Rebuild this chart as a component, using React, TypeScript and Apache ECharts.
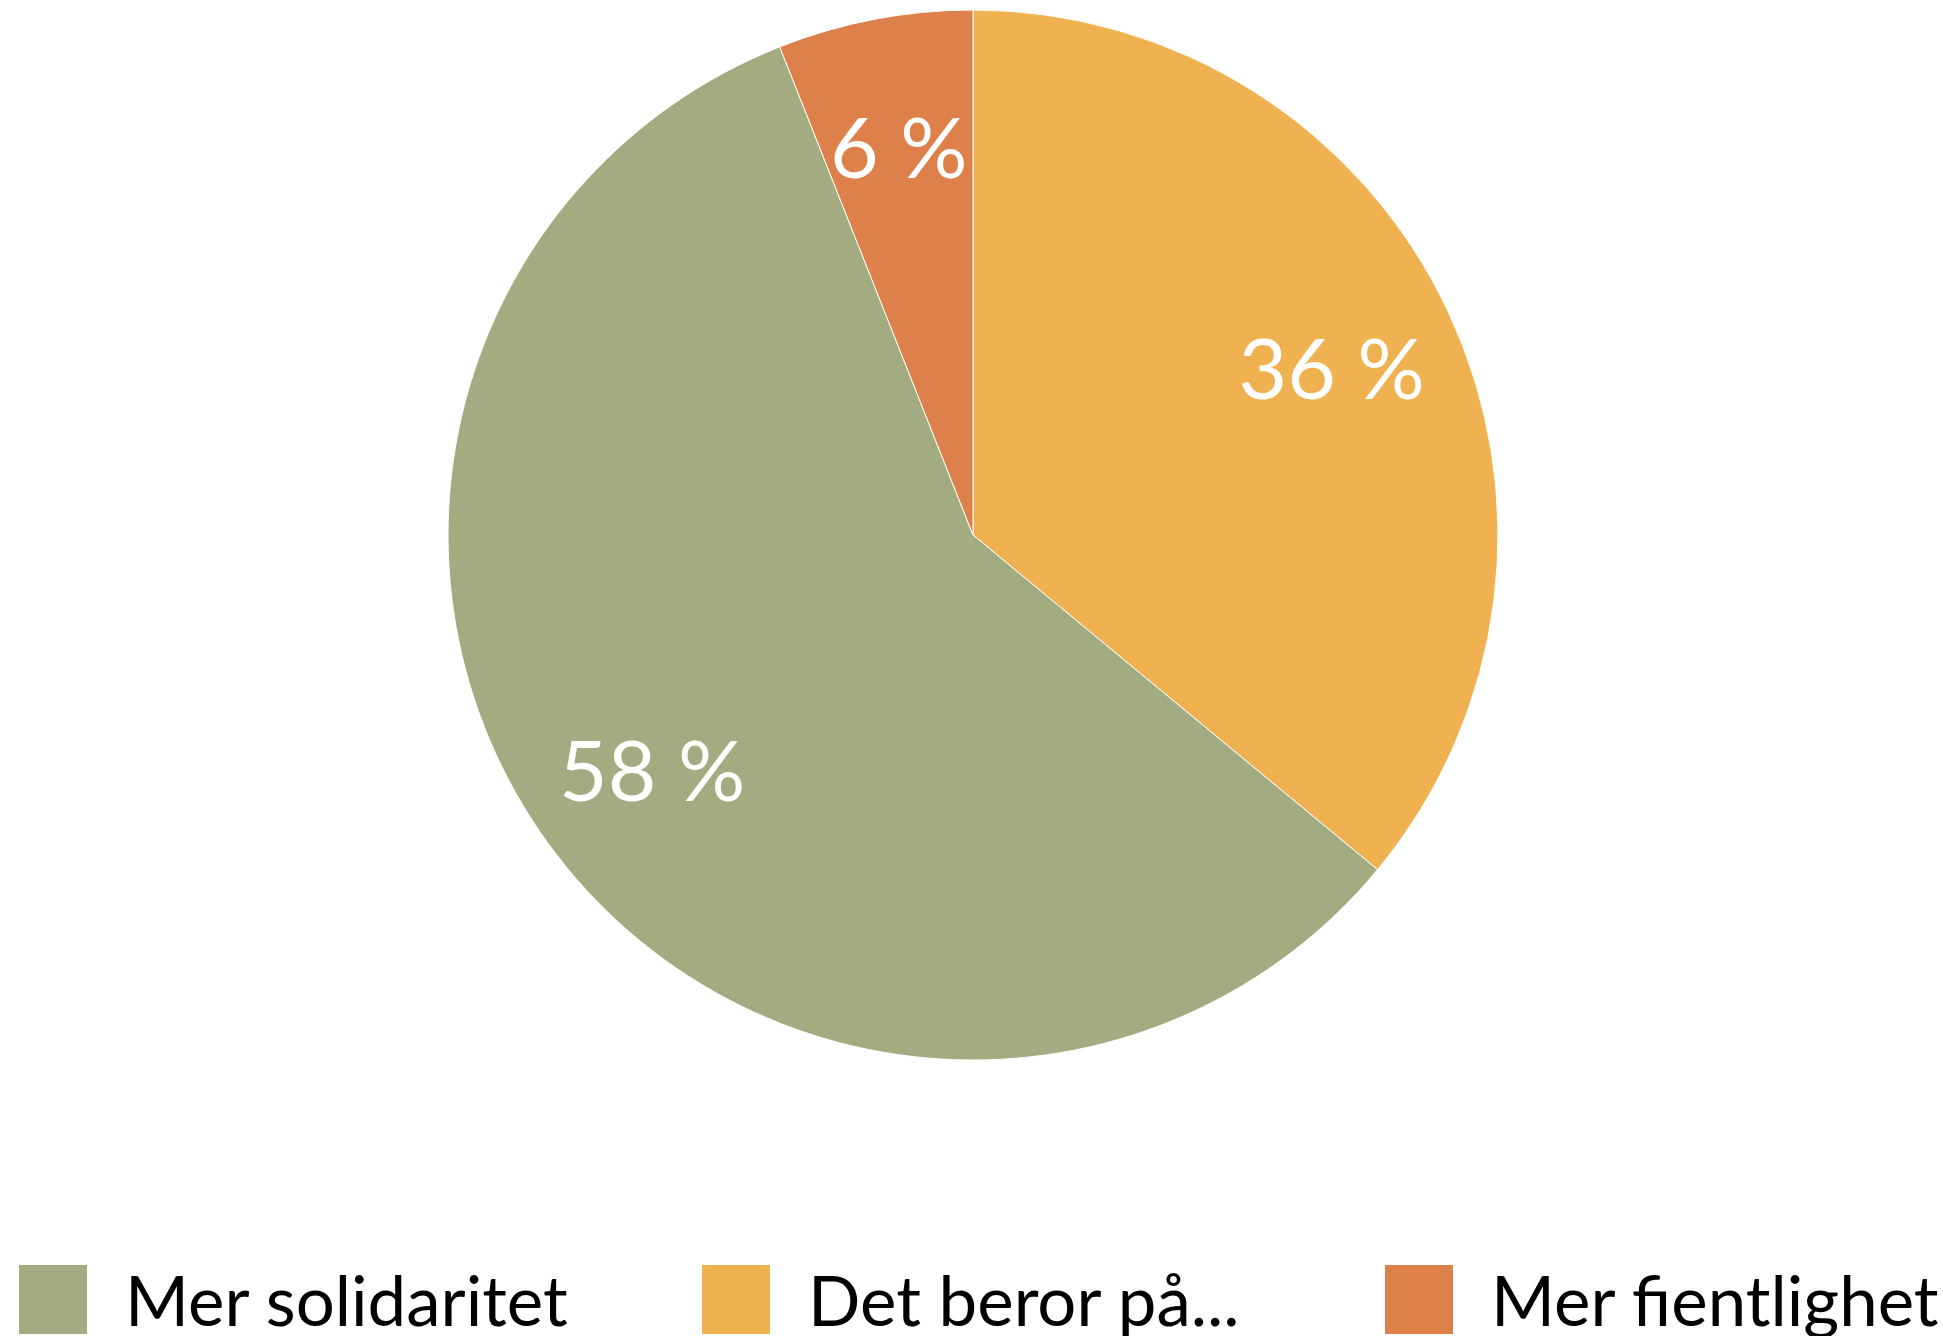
import React, { useEffect, useRef } from "react";
import * as echarts from "echarts";

const sliceNames = ["Det beror på...", "Mer solidaritet", "Mer fientlighet"];
const sliceValues = [36, 58, 6];
const sliceColors = ["#F0B250", "#A3AB80", "#DE8049"];
const legendOrder = ["Mer solidaritet", "Det beror på...", "Mer fientlighet"];
const legendLefts = [17, 700, 1383];

export default function App() {
  const ref = useRef<HTMLDivElement>(null);
  useEffect(() => {
    document.body.style.margin = "0";
    const chart = echarts.init(ref.current!, null, { renderer: "svg" });
    const data = sliceNames.map((n, i) => ({ name: n, value: sliceValues[i], itemStyle: { color: sliceColors[i] } }));
    const font = "Lato, 'Open Sans', sans-serif";
    chart.setOption({
      animation: false,
      backgroundColor: "#ffffff",
      legend: legendOrder.map((n, i) => ({
        data: [n],
        left: legendLefts[i],
        top: 1263,
        padding: 0,
        itemWidth: 70,
        itemHeight: 71,
        icon: "rect",
        selectedMode: false,
        textStyle: { fontSize: 69, lineHeight: 71, color: "#000", fontFamily: font, padding: [0, 0, 0, 32] },
      })),
      series: [
        {
          type: "pie",
          center: [973, 535],
          radius: [0, 525],
          startAngle: 90,
          clockwise: true,
          data,
          label: { show: false },
          labelLine: { show: false },
          itemStyle: { borderColor: "#ffffff", borderWidth: 1 },
          silent: true,
        },
        {
          type: "pie",
          center: [973, 535],
          radius: [262, 525],
          startAngle: 90,
          clockwise: true,
          data: sliceNames.map((n, i) => ({ name: n, value: sliceValues[i] })),
          itemStyle: { color: "rgba(0,0,0,0)" },
          label: {
            show: true,
            position: "inside",
            formatter: (p: any) => p.value + " %",
            color: "#ffffff",
            fontSize: 84,
            fontFamily: font,
          },
          labelLine: { show: false },
          silent: true,
        },
      ],
    });
    return () => chart.dispose();
  }, []);
  return <div ref={ref} style={{ width: 1943, height: 1336 }} />;
}
